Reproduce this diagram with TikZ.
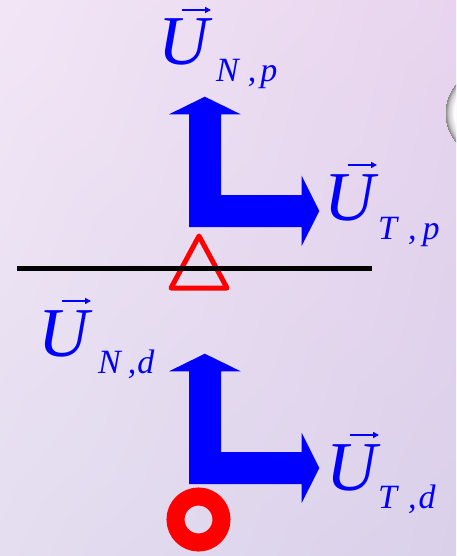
\documentclass[tikz,border=0pt]{standalone}
\usepackage{fontspec}
\setmainfont{Liberation Serif}
\usetikzlibrary{calc,arrows.meta,shadings}
\definecolor{bgUL}{RGB}{242,230,246}
\definecolor{bgUR}{RGB}{232,212,238}
\definecolor{bgLL}{RGB}{228,222,240}
\definecolor{bgLR}{RGB}{218,208,234}
\definecolor{pblue}{RGB}{0,0,255}
\definecolor{pred}{RGB}{255,0,0}
\pgfdeclareradialshading{bubble}{\pgfpoint{0bp}{0bp}}{color(0bp)=(white); color(20bp)=(white); color(23bp)=(black!20); color(25bp)=(black!50)}
\tikzset{
  ulab/.style={inner sep=0pt, anchor=base west, text=pblue, font=\fontsize{70}{70}\selectfont\itshape},
  sublab/.style={inner sep=0pt, anchor=base west, text=pblue, font=\fontsize{34}{34}\selectfont\itshape},
  vecarr/.style={draw=pblue, line width=1.6pt, -{Triangle[length=6pt,width=6pt]}},
  lshape/.style={fill=pblue, draw=none}
}
\newcommand\vecover[1]{\draw[vecarr] ($(#1.base west)+(24pt,55pt)$) -- ($(#1.base west)+(53pt,55pt)$);}
\begin{document}
\begin{tikzpicture}[x=1pt,y=-1pt]
\useasboundingbox (0,0) rectangle (456,556);
\clip (0,0) rectangle (456,556);
\shade[upper left=bgUL, upper right=bgUR, lower left=bgLL, lower right=bgLR] (0,0) rectangle (456,556);
% glossy bubble at right edge
\shade[shading=bubble] (491,113) circle (46);
% L-shaped arrows
\foreach \dy/\nm in {0/top,257/bot}{
  \begin{scope}[yshift=-\dy pt]
  \fill[lshape] (189,227) -- (189,114.3) -- (169,114.3) -- (204.8,96.7) -- (240.7,114.3) -- (221,114.3)
     -- (221,195) -- (301.7,195) -- (301.7,175.7) -- (319.3,211) -- (301.7,246) -- (301.7,227) -- cycle;
  \end{scope}
}
% triangle support
\draw[pred, line width=5pt, line join=round] (199,236) -- (227,288) -- (171,288) -- cycle;
% ground line
\draw[black, line width=5.5pt] (17,268.3) -- (372,268.3);
% ring
\draw[pred, line width=18pt] (198.5,519.5) circle (23);
% labels
\node[ulab] (unp) at (158,65) {U};
\node[sublab] (unps) at (216,82) {N\hspace{9pt},\hspace{4pt}p};
\vecover{unp}
\node[ulab] (utp) at (324,220) {U};
\node[sublab] (utps) at (378,239) {T\hspace{11pt},\hspace{6pt}p};
\vecover{utp}
\node[ulab] (und) at (38,356) {U};
\node[sublab] (unds) at (98,373) {N\hspace{7pt},\hspace{1pt}d};
\vecover{und}
\node[ulab] (utd) at (326,490) {U};
\node[sublab] (utds) at (378,508) {T\hspace{11pt},\hspace{2pt}d};
\vecover{utd}
\end{tikzpicture}
\end{document}
